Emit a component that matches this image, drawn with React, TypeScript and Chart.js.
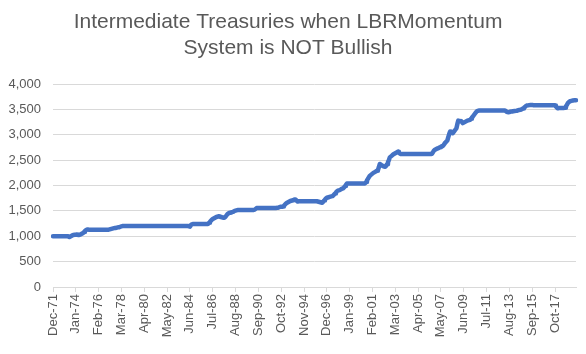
import React, { useEffect, useRef } from "react";
import { Chart, registerables } from "chart.js";

Chart.register(...registerables);

const titleLines = ["Intermediate Treasuries when LBRMomentum", "System is NOT Bullish"];
const monthNames = ["Jan", "Feb", "Mar", "Apr", "May", "Jun", "Jul", "Aug", "Sep", "Oct", "Nov", "Dec"];
const startYear = 1971;
const startMonth = 11; // Dec
const tickEvery = 25;
const tickLabels = ["Dec-71", "Jan-74", "Feb-76", "Mar-78", "Apr-80", "May-82", "Jun-84", "Jul-86", "Aug-88", "Sep-90", "Oct-92", "Nov-94", "Dec-96", "Jan-99", "Feb-01", "Mar-03", "Apr-05", "May-07", "Jun-09", "Jul-11", "Aug-13", "Sep-15", "Oct-17"];

// Monthly values, Dec-71 .. Dec-79
const values70s = [
  1000,
  1000, 1000, 1000, 1000, 1000, 1000, 1000, 1000, 1000, 1000, 1000, 1000,
  1000, 1000, 1000, 1000, 995, 985, 995, 1005, 1015, 1025, 1030, 1030,
  1030, 1035, 1030, 1025, 1030, 1035, 1045, 1055, 1065, 1085, 1105, 1120,
  1130, 1135, 1130, 1130, 1130, 1130, 1130, 1130, 1130, 1130, 1130, 1130,
  1130, 1130, 1130, 1130, 1130, 1130, 1130, 1130, 1130, 1130, 1130, 1130,
  1130, 1135, 1140, 1145, 1150, 1155, 1160, 1165, 1170, 1170, 1175, 1180,
  1180, 1190, 1195, 1200, 1200, 1200, 1200, 1200, 1200, 1200, 1200, 1200,
  1200, 1200, 1200, 1200, 1200, 1200, 1200, 1200, 1200, 1200, 1200, 1200,
];
// Jan-80 .. Dec-89
const values80s = [
  1200, 1200, 1200, 1200, 1200, 1200, 1200, 1200, 1200, 1200, 1200, 1200,
  1200, 1200, 1200, 1200, 1200, 1200, 1200, 1200, 1200, 1200, 1200, 1200,
  1200, 1200, 1200, 1200, 1200, 1200, 1200, 1200, 1200, 1200, 1200, 1200,
  1200, 1200, 1200, 1200, 1200, 1200, 1200, 1200, 1200, 1200, 1200, 1200,
  1200, 1200, 1200, 1200, 1195, 1190, 1215, 1235, 1240, 1240, 1240, 1240,
  1240, 1240, 1240, 1240, 1240, 1240, 1240, 1240, 1240, 1240, 1240, 1240,
  1240, 1245, 1265, 1285, 1305, 1325, 1340, 1350, 1360, 1370, 1380, 1385,
  1390, 1395, 1385, 1380, 1375, 1370, 1365, 1370, 1385, 1410, 1435, 1450,
  1460, 1465, 1470, 1475, 1480, 1490, 1500, 1505, 1510, 1515, 1520, 1520,
  1520, 1520, 1520, 1520, 1520, 1520, 1520, 1520, 1520, 1520, 1520, 1520,
];
// Jan-90 .. Dec-99
const values90s = [
  1520, 1520, 1520, 1520, 1525, 1540, 1555, 1555, 1555, 1555, 1555, 1555,
  1555, 1555, 1555, 1555, 1555, 1555, 1555, 1555, 1555, 1555, 1555, 1555,
  1555, 1555, 1555, 1555, 1560, 1560, 1565, 1575, 1580, 1580, 1580, 1585,
  1600, 1620, 1640, 1655, 1665, 1675, 1685, 1695, 1700, 1705, 1710, 1720,
  1725, 1720, 1700, 1685, 1690, 1690, 1690, 1690, 1690, 1690, 1690, 1690,
  1690, 1690, 1690, 1690, 1690, 1690, 1690, 1690, 1690, 1690, 1690, 1690,
  1690, 1685, 1680, 1675, 1670, 1665, 1660, 1680, 1705, 1725, 1745, 1760,
  1765, 1770, 1775, 1780, 1785, 1790, 1805, 1825, 1845, 1865, 1885, 1900,
  1905, 1910, 1920, 1930, 1940, 1945, 1965, 1990, 2015, 2040, 2040, 2040,
  2040, 2040, 2040, 2040, 2040, 2040, 2040, 2040, 2040, 2040, 2040, 2040,
];
// Jan-00 .. Dec-09
const values00s = [
  2040, 2040, 2040, 2040, 2040, 2045, 2070, 2100, 2130, 2160, 2190, 2205,
  2220, 2235, 2250, 2260, 2270, 2280, 2290, 2305, 2360, 2425, 2415, 2400,
  2390, 2380, 2375, 2370, 2390, 2420, 2460, 2500, 2555, 2570, 2585, 2600,
  2615, 2625, 2635, 2645, 2655, 2668, 2650, 2630, 2620, 2620, 2620, 2620,
  2620, 2620, 2620, 2620, 2620, 2620, 2620, 2620, 2620, 2620, 2620, 2620,
  2620, 2620, 2620, 2620, 2620, 2620, 2620, 2620, 2620, 2620, 2620, 2620,
  2620, 2620, 2620, 2620, 2620, 2620, 2625, 2650, 2680, 2700, 2710, 2720,
  2730, 2735, 2745, 2755, 2765, 2775, 2780, 2800, 2825, 2850, 2870, 2885,
  2950, 3010, 3063, 3050, 3040, 3030, 3055, 3080, 3105, 3130, 3210, 3280,
  3275, 3270, 3265, 3255, 3230, 3240, 3250, 3260, 3270, 3280, 3285, 3290,
];
// Jan-10 .. Sep-19
const values10s = [
  3294, 3315, 3340, 3360, 3385, 3410, 3435, 3455, 3472, 3475, 3478, 3480,
  3480, 3480, 3480, 3480, 3480, 3480, 3480, 3480, 3480, 3480, 3480, 3480,
  3480, 3480, 3480, 3480, 3480, 3480, 3480, 3480, 3480, 3480, 3480, 3480,
  3480, 3480, 3480, 3470, 3455, 3450, 3446, 3450, 3455, 3458, 3460, 3465,
  3468, 3470, 3472, 3475, 3480, 3485, 3490, 3492, 3500, 3510, 3520, 3535,
  3550, 3565, 3577, 3580, 3582, 3585, 3588, 3590, 3590, 3585, 3585, 3585,
  3585, 3585, 3585, 3585, 3585, 3585, 3585, 3585, 3585, 3585, 3585, 3585,
  3585, 3585, 3585, 3585, 3585, 3585, 3585, 3585, 3585, 3580, 3560, 3540,
  3525, 3525, 3530, 3530, 3530, 3530, 3530, 3530, 3535, 3560, 3590, 3623,
  3640, 3655, 3665, 3670, 3675, 3678, 3680, 3680, 3680,
];

const values = [...values70s, ...values80s, ...values90s, ...values00s, ...values10s];
const monthLabels = values.map((_, i) => {
  const m = startMonth + i;
  const y = startYear + Math.floor(m / 12);
  return monthNames[m % 12] + "-" + String(y % 100).padStart(2, "0");
});

const FONT = "'Liberation Sans', Arial, sans-serif";
const TEXT = "#595959";
const GRID = "#D9D9D9";

export default function App() {
  const ref = useRef<HTMLCanvasElement | null>(null);
  useEffect(() => {
    document.body.style.margin = "0";
    const canvas = ref.current!;
    const chart = new Chart(canvas, {
      type: "line",
      data: {
        labels: monthLabels,
        datasets: [
          {
            data: values,
            borderColor: "#4472C4",
            backgroundColor: "#4472C4",
            borderWidth: 4.5,
            pointRadius: 0,
            tension: 0,
            borderJoinStyle: "round",
            borderCapStyle: "round",
          },
        ],
      },
      options: {
        responsive: false,
        animation: false,
        layout: { padding: { left: 0, right: 10, top: 0, bottom: 0 } },
        plugins: {
          legend: { display: false },
          tooltip: { enabled: false },
          title: {
            display: true,
            text: titleLines,
            color: TEXT,
            font: { family: FONT, size: 21, weight: "normal", lineHeight: 1.24 },
            padding: { top: 9, bottom: 23 },
          },
        },
        scales: {
          x: {
            type: "category",
            offset: false,
            grid: {
              display: true,
              drawOnChartArea: false,
              drawTicks: true,
              tickLength: 5,
              color: GRID,
            },
            border: { display: true, color: GRID },
            ticks: {
              autoSkip: false,
              minRotation: 90,
              maxRotation: 90,
              padding: 2,
              color: TEXT,
              font: { family: FONT, size: 13 },
              callback: function (this: any, value: any, index: number) {
                return index % tickEvery === 0 ? tickLabels[index / tickEvery] ?? this.getLabelForValue(value) : null;
              },
            },
            afterFit: (s: any) => {
              s.height = 67;
            },
          },
          y: {
            min: 0,
            max: 4000,
            grid: { color: GRID, drawTicks: false },
            border: { display: false },
            ticks: {
              stepSize: 500,
              padding: 12,
              color: TEXT,
              font: { family: FONT, size: 13 },
              callback: (v: any) => Number(v).toLocaleString("en-US"),
            },
            afterFit: (s: any) => {
              s.width = 53;
            },
          },
        },
      },
    });
    return () => chart.destroy();
  }, []);
  return <canvas ref={ref} width={586} height={354} style={{ display: "block" }} />;
}
